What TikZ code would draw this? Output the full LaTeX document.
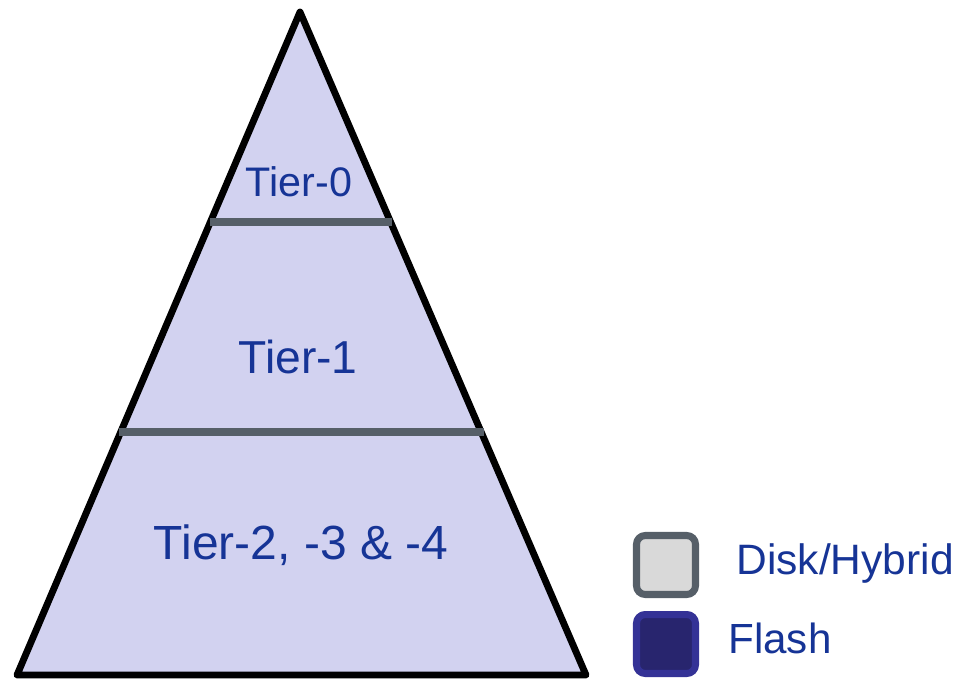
\documentclass[tikz,border=0pt]{standalone}
\usepackage{fontspec}
\setmainfont{Liberation Sans}

\definecolor{pyrfill}{RGB}{210,210,240}
\definecolor{tiertext}{RGB}{22,52,150}
\definecolor{tiergray}{RGB}{86,95,104}
\definecolor{diskfill}{RGB}{217,217,217}
\definecolor{flashfill}{RGB}{40,37,110}
\definecolor{flashline}{RGB}{52,50,150}

\tikzset{
  tierline/.style={draw=tiergray, line width=4pt},
  tierlabel/.style={text=tiertext, inner sep=0pt},
  legendbox/.style={minimum width=1.18cm, minimum height=1.18cm, line width=4pt, rounded corners=5pt},
}

\begin{document}
\begin{tikzpicture}[x=0.02cm, y=-0.02cm]

      \useasboundingbox (0,0) rectangle (957,683);

      % Pyramid
      \coordinate (apex) at (300,12);
      \coordinate (bl) at (17,675);
      \coordinate (br) at (586,675);
      \draw[fill=pyrfill, line width=3.9pt, line join=round] (apex) -- (br) -- (bl) -- cycle;

      % Tier borders
      \coordinate (t0l) at (210,222);
      \coordinate (t0r) at (392,222);
      \coordinate (t1l) at (119,432);
      \coordinate (t1r) at (484,432);
      \draw[tierline] (t0l) -- (t0r);
      \draw[tierline] (t1l) -- (t1r);

      % Labels
      \node[tierlabel, font=\fontsize{23.5}{27}\selectfont] (tier0) at (299,182) {Tier-0};
      \node[tierlabel, font=\fontsize{26.3}{30}\selectfont] (tier1) at (298,357) {Tier-1};
      \node[tierlabel, font=\fontsize{27.3}{31}\selectfont] (tier2) at (301,545) {Tier-2, -3 \& -4};

      % Legend
      \node[legendbox, draw=tiergray, fill=diskfill] (disk) at (666,565) {};
      \node[legendbox, draw=flashline, fill=flashfill] (flash) at (666,644) {};
      \node[tierlabel, anchor=west, font=\fontsize{24.2}{28}\selectfont] (disklabel) at (736,563) {Disk/Hybrid};
      \node[tierlabel, anchor=west, font=\fontsize{24}{28}\selectfont] (flashlabel) at (728,638) {Flash};

    \end{tikzpicture}
\end{document}
